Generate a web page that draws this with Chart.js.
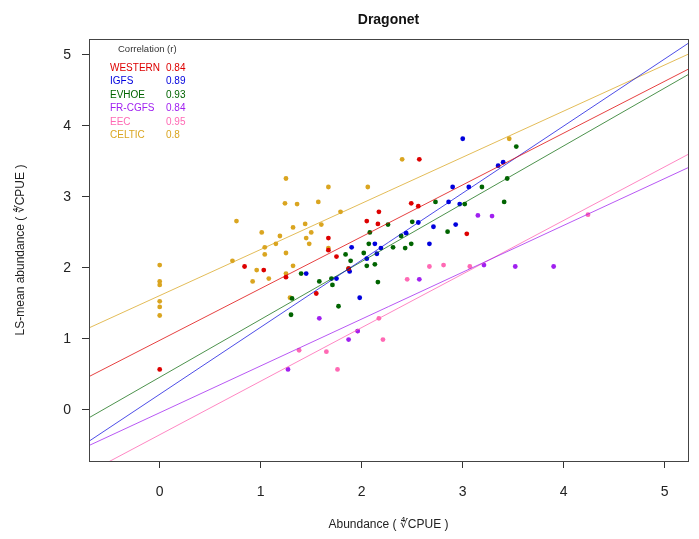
<!DOCTYPE html>
<html>
<head>
<meta charset="utf-8">
<script src="https://cdn.jsdelivr.net/npm/chart.js@4/dist/chart.umd.min.js"></script>
<style>
  html, body { margin: 0; padding: 0; background: #fff; }
  #wrap { width: 699px; height: 539px; }
</style>
</head>
<body>
<div id="wrap"><canvas id="dragonetChart" width="699" height="539"></canvas></div>
<script>
const surveys = ["WESTERN", "IGFS", "EVHOE", "FR-CGFS", "EEC", "CELTIC"];
const correlations = ["0.84", "0.89", "0.93", "0.84", "0.95", "0.8"];
const colors = ["#dd0000", "#0000dd", "#006400", "#a020f0", "#ff69b4", "#daa520"];
const lineColors = ["rgba(221,0,0,0.75)", "rgba(0,0,221,0.7)", "rgba(0,100,0,0.7)",
                    "rgba(160,32,240,0.75)", "rgba(255,105,180,0.8)", "rgba(218,165,32,0.75)"];

// fitted lines (intercept, slope)
const intercepts = [0.98, 0.22, 0.46, -0.04, -0.35, 1.61];
const slopes = [0.73, 0.945, 0.815, 0.66, 0.755, 0.65];

const westernX = [0, 0.84, 1.03, 1.25, 1.67, 1.67, 1.75, 1.55, 1.87, 2.05, 2.17, 2.16, 2.49, 2.56, 2.57, 3.04];
const westernY = [0.57, 2.02, 1.97, 1.87, 2.42, 2.25, 2.16, 1.64, 1.99, 2.66, 2.79, 2.62, 2.91, 2.87, 3.53, 2.48];
const igfsX = [1.45, 1.90, 1.75, 1.98, 1.88, 2.05, 2.13, 2.19, 2.15, 2.44, 2.56, 2.67, 2.71, 2.93, 2.97, 2.86, 2.90, 3.06, 3.00, 3.35, 3.40];
const igfsY = [1.92, 2.29, 1.85, 1.58, 1.95, 2.13, 2.34, 2.28, 2.20, 2.49, 2.64, 2.34, 2.58, 2.61, 2.90, 2.93, 3.14, 3.14, 3.82, 3.44, 3.49];
const evhoeX = [1.40, 1.31, 1.30, 1.58, 1.71, 1.70, 1.77, 1.84, 1.89, 1.87, 2.07, 2.02, 2.05, 2.13, 2.16, 2.08, 2.26, 2.31, 2.39, 2.43, 2.49, 2.50, 2.73, 2.85, 3.02, 3.19, 3.41, 3.44, 3.53];
const evhoeY = [1.92, 1.57, 1.34, 1.81, 1.76, 1.85, 1.46, 2.19, 2.10, 1.99, 2.34, 2.21, 2.03, 2.05, 1.80, 2.50, 2.61, 2.29, 2.45, 2.28, 2.34, 2.65, 2.93, 2.51, 2.90, 3.14, 2.93, 3.26, 3.71];
const frcgfsX = [1.27, 1.58, 1.87, 1.96, 2.57, 3.21, 3.52, 3.90, 3.15, 3.29];
const frcgfsY = [0.57, 1.29, 0.99, 1.11, 1.84, 2.04, 2.02, 2.02, 2.74, 2.73];
const eecX = [1.38, 1.65, 1.76, 1.96, 2.17, 2.21, 2.45, 2.67, 2.81, 3.07, 4.24];
const eecY = [0.84, 0.82, 0.57, 1.11, 1.29, 0.99, 1.84, 2.02, 2.04, 2.02, 2.75];
const celticX = [0, 0, 0, 0, 0, 0, 0.76, 0.72, 1.01, 1.04, 1.04, 0.96, 0.92, 1.08, 1.15, 1.19, 1.25, 1.24, 1.36, 1.44, 1.32, 1.45, 1.25, 1.32, 1.25, 1.29, 1.48, 1.50, 1.60, 1.57, 1.67, 2.06, 1.79, 1.67, 2.40, 3.46];
const celticY = [2.04, 1.81, 1.76, 1.53, 1.45, 1.33, 2.66, 2.10, 2.50, 2.29, 2.19, 1.97, 1.81, 1.85, 2.34, 2.45, 3.26, 2.91, 2.90, 2.62, 2.57, 2.42, 2.21, 2.03, 1.92, 1.58, 2.34, 2.50, 2.61, 2.93, 3.14, 3.14, 2.79, 2.28, 3.53, 3.82];

const xTicks = [0, 1, 2, 3, 4, 5];
const yTicks = [0, 1, 2, 3, 4, 5];
const xRange = [-0.70, 5.23];
const yRange = [-0.72, 5.225];

const seriesX = [westernX, igfsX, evhoeX, frcgfsX, eecX, celticX];
const seriesY = [westernY, igfsY, evhoeY, frcgfsY, eecY, celticY];

const FONT = "'Liberation Sans', Arial, sans-serif";

function buildDatasets() {
    const sets = [];
    surveys.forEach((name, i) => {
        sets.push({
            type: "line",
            label: name + " fit",
            data: xRange.map(x => ({ x: x, y: intercepts[i] + slopes[i] * x })),
            borderColor: lineColors[i],
            borderWidth: 1,
            pointRadius: 0,
            fill: false
        });
    });
    surveys.forEach((name, i) => {
        sets.push({
            type: "scatter",
            label: name,
            data: seriesX[i].map((x, k) => ({ x: x, y: seriesY[i][k] })),
            backgroundColor: colors[i],
            borderColor: colors[i],
            borderWidth: 0,
            pointRadius: 2.4
        });
    });
    return sets;
}

const boxAndText = {
    id: "boxAndText",
    afterDraw(chart) {
        const ctx = chart.ctx;
        const a = chart.chartArea;
        ctx.save();
        ctx.strokeStyle = "#444";
        ctx.lineWidth = 1;
        ctx.strokeRect(Math.round(a.left) + 0.5, Math.round(a.top) + 0.5,
                       Math.round(a.right - a.left), Math.round(a.bottom - a.top));

        ctx.fillStyle = "#111";
        ctx.font = "bold 14px " + FONT;
        ctx.textAlign = "center";
        ctx.textBaseline = "middle";
        ctx.fillText("Dragonet", (a.left + a.right) / 2, 20);

        ctx.textAlign = "left";
        ctx.fillStyle = "#333";
        ctx.font = "9.5px " + FONT;
        ctx.fillText("Correlation (r)", 118, 49);
        ctx.font = "10px " + FONT;
        surveys.forEach((name, i) => {
            const y = 68 + i * 13.5;
            ctx.fillStyle = colors[i];
            ctx.fillText(name, 110, y);
            ctx.fillText(correlations[i], 166, y);
        });
        ctx.restore();
    }
};

function renderChart() {
    const ctx = document.getElementById("dragonetChart").getContext("2d");
    new Chart(ctx, {
        data: { datasets: buildDatasets() },
        options: {
            responsive: false,
            animation: false,
            layout: { padding: { top: 39, right: 11, left: 0, bottom: 0 } },
            plugins: { legend: { display: false }, tooltip: { enabled: false } },
            scales: {
                x: {
                    type: "linear",
                    min: xRange[0],
                    max: xRange[1],
                    afterBuildTicks: s => { s.ticks = xTicks.map(v => ({ value: v })); },
                    afterFit: s => { s.height = 78; },
                    border: { display: false },
                    grid: { drawOnChartArea: false, drawTicks: true, tickLength: 7, tickColor: "#333" },
                    ticks: { color: "#222", font: { family: FONT, size: 14 }, padding: 16, maxRotation: 0 },
                    title: {
                        display: true,
                        text: "Abundance ( \u221CCPUE )",
                        color: "#222",
                        font: { family: FONT, size: 12 },
                        padding: { top: 0, bottom: 7 }
                    }
                },
                y: {
                    type: "linear",
                    min: yRange[0],
                    max: yRange[1],
                    afterBuildTicks: s => { s.ticks = yTicks.map(v => ({ value: v })); },
                    afterFit: s => { s.width = 89; },
                    border: { display: false },
                    grid: { drawOnChartArea: false, drawTicks: true, tickLength: 7, tickColor: "#333" },
                    ticks: { color: "#222", font: { family: FONT, size: 14 }, padding: 11 },
                    title: {
                        display: true,
                        text: "LS-mean abundance ( \u221CCPUE )",
                        color: "#222",
                        font: { family: FONT, size: 12 },
                        padding: { top: 13, bottom: 0 }
                    }
                }
            }
        },
        plugins: [boxAndText]
    });
}

document.addEventListener("DOMContentLoaded", () => {
    renderChart();
});
</script>
</body>
</html>
